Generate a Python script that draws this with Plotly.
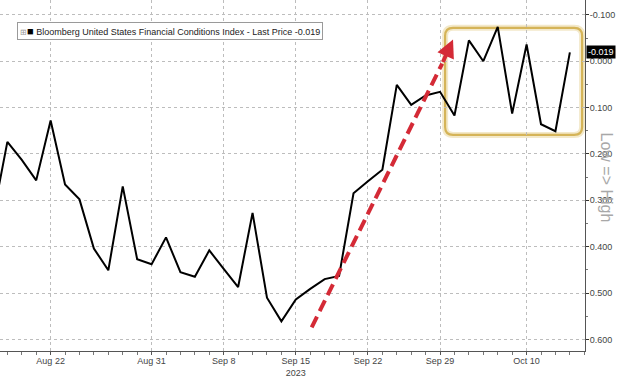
import plotly.graph_objects as go

# ---- data ----
dates = [
    "2023-08-16", "2023-08-17", "2023-08-18", "2023-08-21", "2023-08-22", "2023-08-23",
    "2023-08-24", "2023-08-25", "2023-08-28", "2023-08-29", "2023-08-30", "2023-08-31",
    "2023-09-01", "2023-09-05", "2023-09-06", "2023-09-07", "2023-09-08", "2023-09-11",
    "2023-09-12", "2023-09-13", "2023-09-14", "2023-09-15", "2023-09-18", "2023-09-19",
    "2023-09-20", "2023-09-21", "2023-09-22", "2023-09-25", "2023-09-26", "2023-09-27",
    "2023-09-28", "2023-09-29", "2023-10-02", "2023-10-03", "2023-10-04", "2023-10-05",
    "2023-10-06", "2023-10-10", "2023-10-11", "2023-10-12", "2023-10-13",
]
fci_values = [
    0.336, 0.174, 0.213, 0.257, 0.128, 0.266,
    0.298, 0.404, 0.451, 0.270, 0.427, 0.438,
    0.380, 0.455, 0.465, 0.408, 0.448, 0.487,
    0.327, 0.510, 0.561, 0.514, 0.491, 0.470,
    0.463, 0.285, 0.259, 0.234, 0.051, 0.094,
    0.074, 0.066, 0.117, -0.045, 0.000, -0.074,
    0.113, -0.036, 0.136, 0.151, -0.019,
]

x_tick_dates = ["2023-08-22", "2023-08-31", "2023-09-08", "2023-09-15",
                "2023-09-22", "2023-09-29", "2023-10-10"]
x_tick_text = ["Aug 22", "Aug 31", "Sep 8", "Sep 15<br>2023",
               "Sep 22", "Sep 29", "Oct 10"]
y_tick_vals = [-0.1, 0.0, 0.1, 0.2, 0.3, 0.4, 0.5, 0.6]
y_tick_text = ["-0.100", "0.000", "0.100", "0.200", "0.300", "0.400", "0.500", "0.600"]

legend_text = "Bloomberg United States Financial Conditions Index - Last Price -0.019"
last_price = -0.019
last_label = "-0.019"

# trading-day position of each observation (business-day scale, as on Bloomberg)
pos = {d: i for i, d in enumerate(dates)}
x_pos = [pos[d] for d in dates]
x_tick_vals = [pos[d] for d in x_tick_dates]

# annotation geometry in axis units (trading-day offsets / index values)
x_range = [pos["2023-08-16"] + 0.49, pos["2023-10-13"] + 1.05]
y_range = [0.625, -0.132]
arrow_start = (pos["2023-09-18"] + 0.1, 0.574)
arrow_tip = (pos["2023-09-29"] + 0.9, -0.047)
arrow_back = (pos["2023-09-29"] + 0.15, 0.005)
box_x0, box_x1 = pos["2023-09-29"] + 0.35, pos["2023-10-13"] + 0.85
box_y0, box_y1 = -0.072, 0.159
box_rx, box_ry = 0.55, 0.017

fig = go.Figure()

fig.add_trace(go.Scatter(
    x=x_pos, y=fci_values, mode="lines",
    line=dict(color="#000000", width=2),
    showlegend=False, hoverinfo="skip",
))

box_path = (
    f"M {box_x0 + box_rx},{box_y0} L {box_x1 - box_rx},{box_y0} "
    f"Q {box_x1},{box_y0} {box_x1},{box_y0 + box_ry} "
    f"L {box_x1},{box_y1 - box_ry} "
    f"Q {box_x1},{box_y1} {box_x1 - box_rx},{box_y1} "
    f"L {box_x0 + box_rx},{box_y1} "
    f"Q {box_x0},{box_y1} {box_x0},{box_y1 - box_ry} "
    f"L {box_x0},{box_y0 + box_ry} "
    f"Q {box_x0},{box_y0} {box_x0 + box_rx},{box_y0} Z"
)

# glow and frame of the highlight box
fig.add_shape(type="path", path=box_path, xref="x", yref="y",
              line=dict(color="rgba(232,212,150,0.5)", width=6), layer="below")
fig.add_shape(type="path", path=box_path, xref="x", yref="y",
              line=dict(color="#d5b458", width=2.2), layer="below")

# red dashed arrow
fig.add_shape(type="line", xref="x", yref="y",
              x0=arrow_start[0], y0=arrow_start[1], x1=arrow_back[0], y1=arrow_back[1],
              line=dict(color="#d42a36", width=4, dash="12px,6px"))
fig.add_annotation(x=arrow_tip[0], y=arrow_tip[1], ax=arrow_back[0], ay=arrow_back[1],
                   xref="x", yref="y", axref="x", ayref="y", text="",
                   showarrow=True, arrowhead=2, arrowsize=0.9, arrowwidth=4,
                   arrowcolor="#d42a36")

# legend-like box
fig.add_annotation(
    xref="paper", yref="paper", x=0.029, y=0.937, xanchor="left", yanchor="top",
    text=("<span style='color:#999;font-size:8px'>⊞</span>"
          "<span style='color:#000;font-size:11px'>■</span> " + legend_text),
    showarrow=False, align="left",
    font=dict(family="Liberation Sans", size=9, color="#222"),
    bgcolor="white", bordercolor="#9a9a9a", borderwidth=1, borderpad=2,
)

# last price tag
fig.add_annotation(
    xref="paper", yref="y", x=1.0, y=last_price, xanchor="left", yanchor="middle",
    text=last_label, showarrow=False,
    font=dict(family="Liberation Sans", size=9, color="white"),
    bgcolor="black", borderpad=1, xshift=1,
)

# right title
fig.add_annotation(
    xref="paper", yref="paper", x=1.036, y=0.494, xanchor="center", yanchor="middle",
    text="Low => High", textangle=90, showarrow=False,
    font=dict(family="Liberation Sans", size=16, color="#a8a8a8"),
)

fig.update_layout(
    width=620, height=378,
    margin=dict(l=0, r=35, t=0, b=22),
    paper_bgcolor="white", plot_bgcolor="white",
    showlegend=False,
    xaxis=dict(
        range=x_range,
        tickmode="array", tickvals=x_tick_vals, ticktext=x_tick_text,
        showgrid=True, gridcolor="#bdbdbd", griddash="dot", gridwidth=1,
        showline=True, linecolor="#555", linewidth=1,
        ticks="outside", ticklen=3, tickcolor="#555",
        ticklabelstandoff=-2,
        tickfont=dict(family="Liberation Sans", size=9, color="#444"),
        minor=dict(ticks="outside", ticklen=3, tickcolor="#777",
                   dtick=1, tick0=0, showgrid=False),
        zeroline=False, fixedrange=True,
    ),
    yaxis=dict(
        side="right", range=y_range,
        tickmode="array", tickvals=y_tick_vals, ticktext=y_tick_text,
        showgrid=True, gridcolor="#bdbdbd", griddash="dot", gridwidth=1,
        showline=True, linecolor="#555", linewidth=1,
        ticks="outside", ticklen=3, tickcolor="#333",
        ticklabelstandoff=-1,
        tickfont=dict(family="Liberation Sans", size=9, color="#444"),
        minor=dict(ticks="outside", ticklen=2, tickcolor="#777", dtick=0.05,
                   tick0=0, showgrid=False),
        zeroline=False, fixedrange=True,
    ),
)

fig.write_html(
    "out.html",
    config={"displayModeBar": False},
    post_script="document.body.style.margin='0';document.body.style.overflow='hidden';",
)
